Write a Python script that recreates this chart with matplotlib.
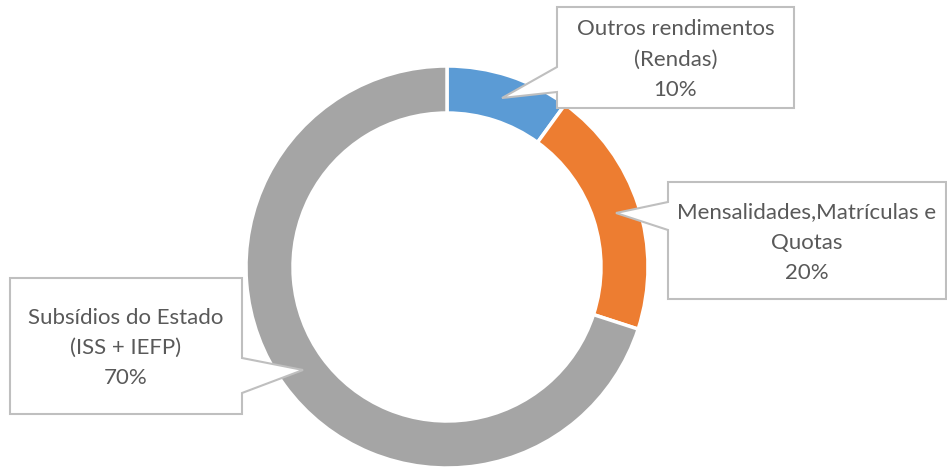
import matplotlib
matplotlib.use("Agg")
import matplotlib.pyplot as plt
from matplotlib.patches import Polygon

# Data
labels = ["Outros rendimentos\n(Rendas)",
          "Mensalidades,Matrículas e\nQuotas",
          "Subsídios do Estado\n(ISS + IEFP)"]
values = [10, 20, 70]
colors = ["#5B9BD5", "#ED7D31", "#A5A5A5"]

W, H = 947, 468

# Callout layout in pixels (box left, top, right, bottom, tip x, tip y, base y1, base y2)
callouts = [
    (557, 7, 794, 108, 502, 98, 67, 92),
    (668, 182, 946, 299, 616, 213, 202, 230),
    (10, 278, 242, 414, 303, 370, 358, 393),
]

fig = plt.figure(figsize=(W / 100, H / 100), dpi=100)
ax = fig.add_axes([0, 0, 1, 1])

cx, cy, r = 447, H - 267, 201
ax.pie(values, colors=colors, startangle=90, counterclock=False,
       center=(cx, cy), radius=r,
       wedgeprops=dict(width=47, edgecolor="white", linewidth=2.5))

ax.set_xlim(0, W)
ax.set_ylim(0, H)
ax.set_aspect("auto")
ax.axis("off")

for (lab, val, c) in zip(labels, values, callouts):
    l, t, rr, b, tx, ty, b1, b2 = c
    if tx > rr:
        # pointer on the right side
        pts = [(l, t), (rr, t), (rr, b1), (tx, ty), (rr, b2), (rr, b), (l, b)]
    else:
        pts = [(l, t), (rr, t), (rr, b), (l, b), (l, b2), (tx, ty), (l, b1)]
    pts = [(x, H - y) for x, y in pts]
    ax.add_patch(Polygon(pts, closed=True, facecolor="white",
                         edgecolor="#BFBFBF", linewidth=1.5, zorder=5))
    ax.text((l + rr) / 2, H - (t + b) / 2 - 2, f"{lab}\n{val}%", ha="center",
            va="center", fontsize=16, color="#595959", family="Lato",
            linespacing=1.65, zorder=6)

fig.savefig("out.png", dpi=100)
